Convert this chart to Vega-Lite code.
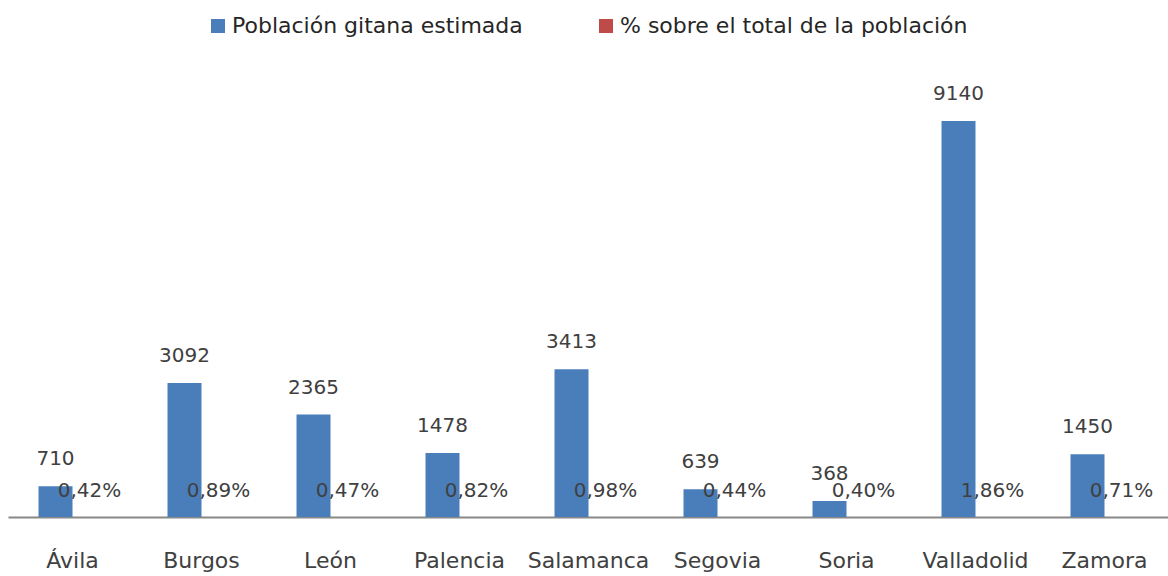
{
  "$schema": "https://vega.github.io/schema/vega-lite/v6.json",
  "width": 1161,
  "height": 447,
  "autosize": {"type": "none"},
  "padding": {"left": 8, "top": 70, "right": 0, "bottom": 59},
  "background": "white",
  "config": {
    "view": {"stroke": null},
    "font": "DejaVu Sans",
    "locale": {"number": {"decimal": ",", "thousands": ".", "grouping": [3], "currency": ["", " €"]}}
  },
  "data": {
    "values": [
      {"provincia": "Ávila", "serie": "Población gitana estimada", "valor": 710},
      {"provincia": "Ávila", "serie": "% sobre el total de la población", "valor": 0.0042},
      {"provincia": "Burgos", "serie": "Población gitana estimada", "valor": 3092},
      {"provincia": "Burgos", "serie": "% sobre el total de la población", "valor": 0.0089},
      {"provincia": "León", "serie": "Población gitana estimada", "valor": 2365},
      {"provincia": "León", "serie": "% sobre el total de la población", "valor": 0.0047},
      {"provincia": "Palencia", "serie": "Población gitana estimada", "valor": 1478},
      {"provincia": "Palencia", "serie": "% sobre el total de la población", "valor": 0.0082},
      {"provincia": "Salamanca", "serie": "Población gitana estimada", "valor": 3413},
      {"provincia": "Salamanca", "serie": "% sobre el total de la población", "valor": 0.0098},
      {"provincia": "Segovia", "serie": "Población gitana estimada", "valor": 639},
      {"provincia": "Segovia", "serie": "% sobre el total de la población", "valor": 0.0044},
      {"provincia": "Soria", "serie": "Población gitana estimada", "valor": 368},
      {"provincia": "Soria", "serie": "% sobre el total de la población", "valor": 0.0040},
      {"provincia": "Valladolid", "serie": "Población gitana estimada", "valor": 9140},
      {"provincia": "Valladolid", "serie": "% sobre el total de la población", "valor": 0.0186},
      {"provincia": "Zamora", "serie": "Población gitana estimada", "valor": 1450},
      {"provincia": "Zamora", "serie": "% sobre el total de la población", "valor": 0.0071}
    ]
  },
  "encoding": {
    "x": {
      "field": "provincia",
      "type": "nominal",
      "sort": null,
      "scale": {"paddingInner": 0.473, "paddingOuter": 0.2365},
      "axis": {
        "title": null,
        "labelAngle": 0,
        "labelFontSize": 22,
        "labelColor": "#404040",
        "labelPadding": 33,
        "labelBaseline": "top",
        "ticks": false,
        "domainColor": "#888888",
        "domainWidth": 2
      }
    },
    "xOffset": {
      "field": "serie",
      "type": "nominal",
      "scale": {"domain": ["Población gitana estimada", "% sobre el total de la población"], "paddingInner": 0, "paddingOuter": 0}
    },
    "y": {
      "field": "valor",
      "type": "quantitative",
      "scale": {"domain": [0, 10317], "nice": false},
      "axis": null
    }
  },
  "layer": [
    {
      "mark": {"type": "bar"},
      "encoding": {
        "color": {
          "field": "serie",
          "type": "nominal",
          "scale": {"domain": ["Población gitana estimada", "% sobre el total de la población"], "range": ["#4a7ebb", "#be4b48"]},
          "legend": {
            "title": null,
            "orient": "none",
            "direction": "horizontal",
            "legendX": 199,
            "legendY": -55,
            "symbolType": "square",
            "symbolSize": 196,
            "symbolStrokeWidth": 0,
            "labelFontSize": 22,
            "labelColor": "#262626",
            "labelOffset": 3,
            "columnPadding": 72,
            "labelLimit": 500
          }
        }
      }
    },
    {
      "transform": [{"filter": "datum.serie === 'Población gitana estimada'"}],
      "mark": {"type": "text", "baseline": "bottom", "dy": -17, "fontSize": 20, "color": "#404040"},
      "encoding": {"text": {"field": "valor", "type": "quantitative", "format": "d"}}
    },
    {
      "transform": [{"filter": "datum.serie === '% sobre el total de la población'"}],
      "mark": {"type": "text", "baseline": "bottom", "dy": -16, "fontSize": 20, "color": "#404040"},
      "encoding": {"text": {"field": "valor", "type": "quantitative", "format": ".2%"}}
    }
  ]
}
